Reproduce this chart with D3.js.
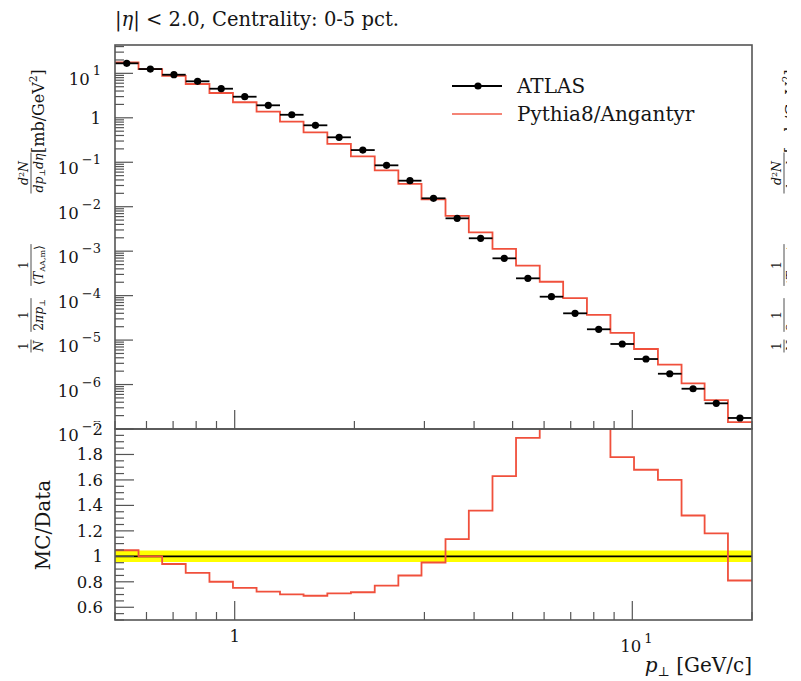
<!DOCTYPE html>
<html>
<head>
<meta charset="utf-8">
<script src="https://d3js.org/d3.v7.min.js"></script>
<style>
body { margin: 0; background: #fff; }
text { font-family: "DejaVu Serif", serif; fill: #151515; }
.frame { fill: none; stroke: #555; stroke-width: 1.6; }
.tk { stroke: #555; stroke-width: 1.2; }
</style>
</head>
<body>
<script>

// pT bin edges [GeV/c]
var binEdges = [0.5, 0.573, 0.657, 0.753, 0.864, 0.99, 1.135, 1.3, 1.49, 1.71, 1.96, 2.25, 2.58, 2.95,
                3.39, 3.88, 4.45, 5.1, 5.85, 6.7, 7.69, 8.81, 10.1, 11.6, 13.3, 15.2, 17.4, 20];

// ATLAS data, 0-5% centrality
var atlasValues = [16.8, 12.5, 9.31, 6.62, 4.51, 2.98, 1.91, 1.17, 0.678, 0.364, 0.188, 0.0853, 0.0385,
                   0.01545, 0.00548, 0.00195, 6.9e-4, 2.45e-4, 9.46e-5, 4.0e-5, 1.75e-5, 8.17e-6,
                   3.75e-6, 1.75e-6, 8.05e-7, 3.78e-7, 1.77e-7];

// Pythia8/Angantyr
var pythiaValues = [17.6, 12.5, 8.75, 5.76, 3.61, 2.24, 1.38, 0.82, 0.468, 0.258, 0.135, 0.0657, 0.0327,
                    0.0147, 0.00622, 0.00265, 1.125e-3, 4.73e-4, 2.05e-4, 8.8e-5, 3.68e-5, 1.454e-5,
                    6.3e-6, 2.8e-6, 1.063e-6, 4.46e-7, 1.434e-7];

// relative data uncertainty (yellow band)
var dataRelErr = [0.045, 0.045, 0.045, 0.045, 0.045, 0.045, 0.045, 0.045, 0.045, 0.045, 0.045, 0.045, 0.045,
                  0.045, 0.045, 0.045, 0.045, 0.045, 0.045, 0.045, 0.045, 0.045, 0.045, 0.045, 0.045, 0.045, 0.045];

var topTickExp = [1, 0, -1, -2, -3, -4, -5, -6, -7];
var ratioTicks = [0.6, 0.8, 1, 1.2, 1.4, 1.6, 1.8, 2];
var titleText = "Centrality: 0-5 pct.";

var width = 801, height = 681;
var L = 115, R = 752, T = 45, M = 429, B = 620;
var red = "#f0503c";

var svg = d3.select("body").append("svg")
  .attr("width", width)
  .attr("height", height);

var x = d3.scaleLog().domain([0.5, 20]).range([L, R]);
var y = d3.scaleLog().domain([1e-7, 43.4]).range([M, T]);
var yr = d3.scaleLinear().domain([0.5, 2.0]).range([B, M]);

var defs = svg.append("defs");
defs.append("clipPath").attr("id", "cTop").append("rect")
  .attr("x", L).attr("y", T).attr("width", R - L).attr("height", M - T);
defs.append("clipPath").attr("id", "cRat").append("rect")
  .attr("x", L).attr("y", M).attr("width", R - L).attr("height", B - M);
defs.append("clipPath").attr("id", "cEdge").append("rect")
  .attr("x", 0).attr("y", 0).attr("width", 787).attr("height", height);

var n = atlasValues.length;
var ratio = pythiaValues.map(function(v, i) { return v / atlasValues[i]; });

function stepPts(vals) {
  var p = vals.map(function(v, i) { return [binEdges[i], v]; });
  p.push([binEdges[n], vals[n - 1]]);
  return p;
}

// ---- top panel
var gTop = svg.append("g").attr("clip-path", "url(#cTop)");

gTop.append("path")
  .attr("d", d3.line().x(function(d) { return x(d[0]); }).y(function(d) { return y(d[1]); })
    .curve(d3.curveStepAfter)(stepPts(pythiaValues)))
  .attr("fill", "none").attr("stroke", red).attr("stroke-width", 1.8);

var pts = gTop.selectAll(".pt").data(atlasValues).enter().append("g");
pts.append("line")
  .attr("x1", function(d, i) { return x(binEdges[i]); })
  .attr("x2", function(d, i) { return x(binEdges[i + 1]); })
  .attr("y1", function(d) { return y(d); })
  .attr("y2", function(d) { return y(d); })
  .attr("stroke", "#000").attr("stroke-width", 1.8);
pts.append("circle")
  .attr("cx", function(d, i) { return x(Math.sqrt(binEdges[i] * binEdges[i + 1])); })
  .attr("cy", function(d) { return y(d); })
  .attr("r", 3.6).attr("fill", "#000");

// ---- ratio panel
var gRat = svg.append("g").attr("clip-path", "url(#cRat)");

gRat.append("path")
  .attr("d", d3.area().x(function(d) { return x(d[0]); })
    .y0(function(d) { return yr(1 - d[1]); }).y1(function(d) { return yr(1 + d[1]); })
    .curve(d3.curveStepAfter)(stepPts(dataRelErr)))
  .attr("fill", "#ffff00");
gRat.append("line")
  .attr("x1", L).attr("x2", R).attr("y1", yr(1)).attr("y2", yr(1))
  .attr("stroke", "#000").attr("stroke-width", 1.6);
gRat.append("path")
  .attr("d", d3.line().x(function(d) { return x(d[0]); }).y(function(d) { return yr(d[1]); })
    .curve(d3.curveStepAfter)(stepPts(ratio)))
  .attr("fill", "none").attr("stroke", red).attr("stroke-width", 1.8);

// ---- ticks
var gT = svg.append("g");
function tick(x1, y1, x2, y2) {
  gT.append("line").attr("class", "tk").attr("x1", x1).attr("y1", y1).attr("x2", x2).attr("y2", y2);
}
// x ticks on top-panel bottom and ratio bottom
[-1, 0, 1].forEach(function(k) {
  for (var m = 1; m < 10; m++) {
    var v = m * Math.pow(10, k);
    if (v < 0.5 || v > 20) continue;
    var len = m === 1 ? 19 : 8;
    tick(x(v), M, x(v), M - len);
    tick(x(v), B, x(v), B - len);
  }
});
// top y ticks
for (var k = -7; k <= 1; k++) {
  for (var m = 1; m < 10; m++) {
    var v = m * Math.pow(10, k);
    if (v > 43.4) continue;
    tick(L, y(v), L + (m === 1 ? 18 : 9), y(v));
  }
}
// ratio y ticks
d3.range(10, 41).forEach(function(j) {
  var v = j * 0.05;
  var major = j % 4 === 0;
  tick(L, yr(v), L + (major ? 19 : 9), yr(v));
});

// frames
svg.append("rect").attr("class", "frame").attr("x", L).attr("y", T).attr("width", R - L).attr("height", M - T);
svg.append("rect").attr("class", "frame").attr("x", L).attr("y", M).attr("width", R - L).attr("height", B - M);

// ---- tick labels
var gl = svg.append("g");
topTickExp.forEach(function(e) {
  var t = gl.append("text").attr("text-anchor", "end").attr("x", 101)
    .style("font-size", "16.5px");
  if (e === 0) {
    t.attr("y", y(1) + 6).text("1");
  } else {
    t.attr("y", y(Math.pow(10, e)) + 12).text("10");
    t.append("tspan").attr("dx", 3).attr("dy", -10).style("font-size", "13px")
      .text(e < 0 ? "\u2212" + (-e) : e);
  }
});
ratioTicks.forEach(function(v) {
  gl.append("text").attr("text-anchor", "end").attr("x", 103).attr("y", yr(v) + 6)
    .style("font-size", "16.5px")
    .style("stroke", v === 2 ? "#fff" : null).style("stroke-width", v === 2 ? 3 : null)
    .style("paint-order", "stroke")
    .text(v % 1 === 0 ? v : v.toFixed(1));
});
gl.append("text").attr("text-anchor", "middle").attr("x", x(1)).attr("y", 642)
  .style("font-size", "16.5px").text("1");
var t10 = gl.append("text").attr("text-anchor", "middle").attr("x", x(10) + 4).attr("y", 652)
  .style("font-size", "16.5px").text("10");
t10.append("tspan").attr("dx", 3).attr("dy", -9).style("font-size", "13px").text("1");

// axis titles
var xt = gl.append("text").attr("text-anchor", "end").attr("x", R).attr("y", 672)
  .style("font-size", "20px");
xt.append("tspan").style("font-style", "italic").text("p");
xt.append("tspan").attr("dy", 4).style("font-size", "13px").text("\u22a5");
xt.append("tspan").attr("dy", -4).text(" [GeV/c]");

gl.append("text").attr("transform", "translate(50,525) rotate(-90)")
  .attr("text-anchor", "middle").style("font-size", "20px").text("MC/Data");

// title
var tt = gl.append("text").attr("x", L).attr("y", 26).style("font-size", "19.5px");
tt.append("tspan").text("|");
tt.append("tspan").style("font-style", "italic").text("\u03b7");
tt.append("tspan").text("| < 2.0, " + titleText);

// legend
var lg = svg.append("g").attr("transform", "translate(452,0)");
lg.append("line").attr("x1", 0).attr("x2", 50).attr("y1", 86).attr("y2", 86)
  .attr("stroke", "#000").attr("stroke-width", 1.8);
lg.append("circle").attr("cx", 26).attr("cy", 86).attr("r", 3.6).attr("fill", "#000");
lg.append("text").attr("x", 65).attr("y", 93).style("font-size", "20px").text("ATLAS");
lg.append("line").attr("x1", 0).attr("x2", 50).attr("y1", 114).attr("y2", 114)
  .attr("stroke", red).attr("stroke-width", 1.8).attr("stroke-opacity", 0.7);
lg.append("text").attr("x", 65).attr("y", 121).style("font-size", "20px").text("Pythia8/Angantyr");

// y label (also repeated from neighbouring plot at the right edge)
function yLabel(x0, clip) {
  var g = svg.append("g").attr("clip-path", clip ? "url(#cEdge)" : null)
    .append("g").attr("transform", "translate(" + x0 + ",360) rotate(-90)");
  function frac(cx, num, den) {
    var a = g.append("text").attr("x", cx).attr("y", -3).attr("text-anchor", "middle")
      .style("font-size", "12.5px").html(num);
    var b = g.append("text").attr("x", cx).attr("y", 12).attr("text-anchor", "middle")
      .style("font-size", "12.5px").html(den);
    var w = Math.max(a.node().getComputedTextLength(), b.node().getComputedTextLength()) + 2;
    g.append("line").attr("x1", cx - w / 2).attr("x2", cx + w / 2).attr("y1", 0).attr("y2", 0)
      .attr("stroke", "#222").attr("stroke-width", 0.8);
  }
  frac(14, "1", "<tspan font-style='italic'>N</tspan>");
  frac(45, "1", "2<tspan font-style='italic'>\u03c0p</tspan><tspan font-size='8' dy='2'>\u22a5</tspan>");
  frac(95, "1", "\u27e8<tspan font-style='italic'>T</tspan><tspan font-size='8' dy='2'>AA,m</tspan><tspan dy='-2'>\u27e9</tspan>");
  frac(187, "<tspan font-style='italic'>d</tspan><tspan font-size='8' dy='-4'>2</tspan><tspan dy='4' font-style='italic'>N</tspan>",
    "<tspan font-style='italic'>dp</tspan><tspan font-size='8' dy='2'>\u22a5</tspan><tspan dy='-2' font-style='italic'>d\u03b7</tspan>");
  var u = g.append("text").attr("x", 207).attr("y", 13).style("font-size", "16px").text("[mb/GeV");
  u.append("tspan").attr("dy", -7).style("font-size", "10.5px").text("2");
  u.append("tspan").attr("dy", 7).text("]");
}
yLabel(31, false);
yLabel(784, true);

</script>
</body>
</html>
